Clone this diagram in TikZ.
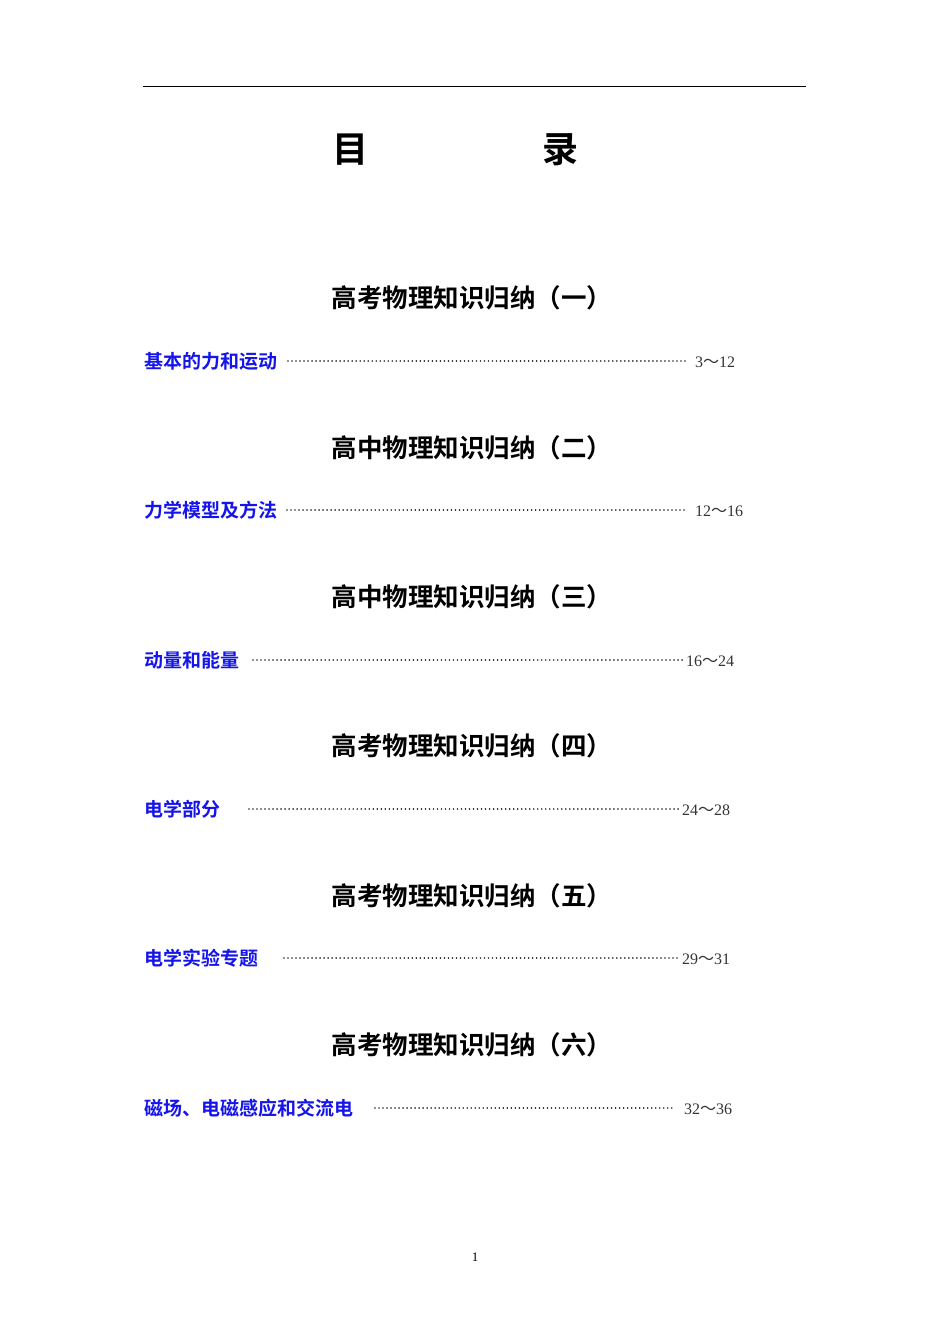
\documentclass[tikz,border=0pt]{standalone}
\usepackage{fontspec}
\setmainfont{Liberation Serif}
\newfontfamily\cjk{Noto Sans CJK SC}
\newfontfamily\cjkb{Noto Sans CJK SC Bold}
\definecolor{linkblue}{RGB}{20,20,235}
\tikzset{
  heading/.style={font=\cjkb\fontsize{25.5}{28}\selectfont, inner sep=0pt},
  entry/.style={font=\cjkb\fontsize{19}{21}\selectfont, text=linkblue, anchor=west, inner sep=0pt},
  pnum/.style={font=\fontsize{16}{18}\selectfont, text=black!80, anchor=west, inner sep=0pt},
  leader/.style={line width=1.7pt, dash pattern=on 0.01pt off 4pt, line cap=round, black!85}
}
\newcommand{\tl}{{\cjk ～}}
\begin{document}
\begin{tikzpicture}[x=1pt,y=-1pt]
\useasboundingbox (0,0) rectangle (950,1344);
\draw[line width=1pt] (143,86) coordinate (la) -- (806,86) coordinate (lb);
\node[font=\cjkb\fontsize{36}{38}\selectfont] (t1) at (350,150) {目};
\node[font=\cjkb\fontsize{36}{38}\selectfont] (t2) at (560,150) {录};

\node[heading] (h1) at (472,298) {高考物理知识归纳（一）};
\node[entry] (e1) at (144,361) {基本的力和运动};
\node[pnum] (p1) at (695,362) {3\tl12};
\draw[leader] (288,361) coordinate (a1) -- (685,361) coordinate (b1);

\node[heading] (h2) at (472,448) {高中物理知识归纳（二）};
\node[entry] (e2) at (144,510) {力学模型及方法};
\node[pnum] (p2) at (695,511) {12\tl16};
\draw[leader] (287,510) coordinate (a2) -- (685,510) coordinate (b2);

\node[heading] (h3) at (472,597) {高中物理知识归纳（三）};
\node[entry] (e3) at (144,660) {动量和能量};
\node[pnum] (p3) at (686,661) {16\tl24};
\draw[leader] (253,660) coordinate (a3) -- (684,660) coordinate (b3);

\node[heading] (h4) at (472,746) {高考物理知识归纳（四）};
\node[entry] (e4) at (144,809) {电学部分};
\node[pnum] (p4) at (682,810) {24\tl28};
\draw[leader] (249,809) coordinate (a4) -- (680,809) coordinate (b4);

\node[heading] (h5) at (472,896) {高考物理知识归纳（五）};
\node[entry] (e5) at (144,958) {电学实验专题};
\node[pnum] (p5) at (682,959) {29\tl31};
\draw[leader] (284,958) coordinate (a5) -- (680,958) coordinate (b5);

\node[heading] (h6) at (472,1045) {高考物理知识归纳（六）};
\node[entry] (e6) at (144,1108) {磁场、电磁感应和交流电};
\node[pnum] (p6) at (684,1109) {32\tl36};
\draw[leader] (375,1108) coordinate (a6) -- (673,1108) coordinate (b6);

\node[font=\fontsize{13}{14}\selectfont] (pg) at (475,1257) {1};
\end{tikzpicture}
\end{document}
